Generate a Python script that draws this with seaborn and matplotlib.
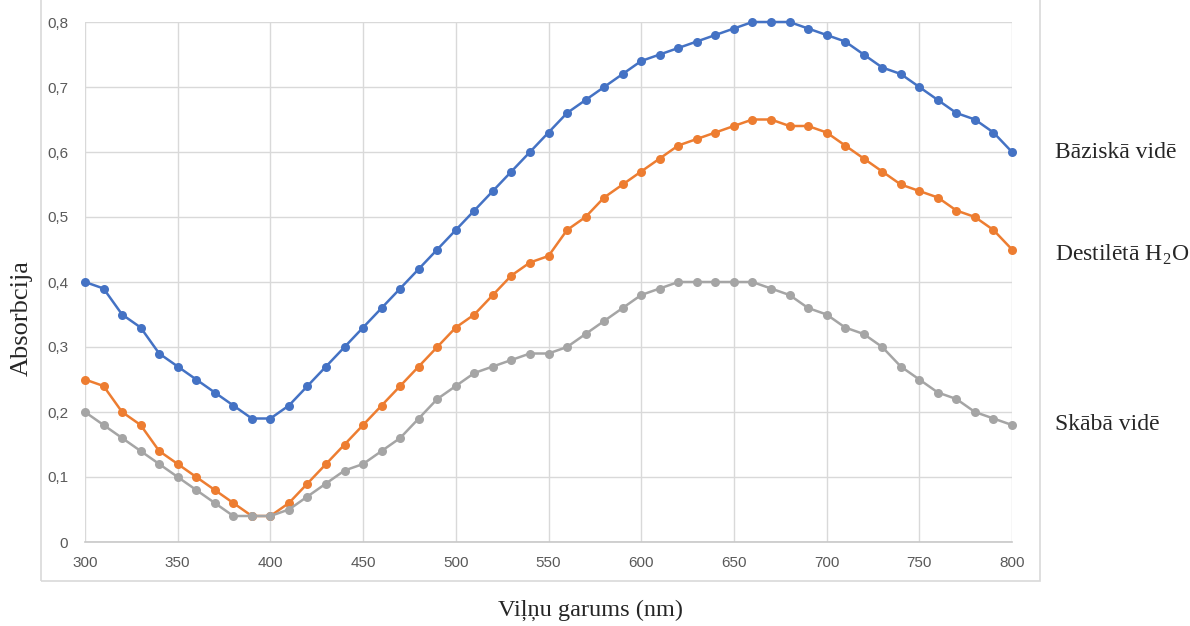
import numpy as np
import pandas as pd
import matplotlib
matplotlib.use('Agg')
import matplotlib.pyplot as plt
from matplotlib.patches import Rectangle
from matplotlib.ticker import FuncFormatter
import seaborn as sns

# Absorption spectra
wavelengths = list(range(300, 801, 10))

bazes = [0.40, 0.39, 0.35, 0.33, 0.29, 0.27, 0.25, 0.23, 0.21, 0.19,
         0.19, 0.21, 0.24, 0.27, 0.30, 0.33, 0.36, 0.39, 0.42, 0.45,
         0.48, 0.51, 0.54, 0.57, 0.60, 0.63, 0.66, 0.68, 0.70, 0.72,
         0.74, 0.75, 0.76, 0.77, 0.78, 0.79, 0.80, 0.80, 0.80, 0.79,
         0.78, 0.77, 0.75, 0.73, 0.72, 0.70, 0.68, 0.66, 0.65, 0.63,
         0.60]
udens = [0.25, 0.24, 0.20, 0.18, 0.14, 0.12, 0.10, 0.08, 0.06, 0.04,
         0.04, 0.06, 0.09, 0.12, 0.15, 0.18, 0.21, 0.24, 0.27, 0.30,
         0.33, 0.35, 0.38, 0.41, 0.43, 0.44, 0.48, 0.50, 0.53, 0.55,
         0.57, 0.59, 0.61, 0.62, 0.63, 0.64, 0.65, 0.65, 0.64, 0.64,
         0.63, 0.61, 0.59, 0.57, 0.55, 0.54, 0.53, 0.51, 0.50, 0.48,
         0.45]
skabes = [0.20, 0.18, 0.16, 0.14, 0.12, 0.10, 0.08, 0.06, 0.04, 0.04,
          0.04, 0.05, 0.07, 0.09, 0.11, 0.12, 0.14, 0.16, 0.19, 0.22,
          0.24, 0.26, 0.27, 0.28, 0.29, 0.29, 0.30, 0.32, 0.34, 0.36,
          0.38, 0.39, 0.40, 0.40, 0.40, 0.40, 0.40, 0.39, 0.38, 0.36,
          0.35, 0.33, 0.32, 0.30, 0.27, 0.25, 0.23, 0.22, 0.20, 0.19,
          0.18]

series_names = ['Bāziskā vidē', 'Destilētā H$_\\mathrm{2}$O', 'Skābā vidē']
colors = ['#4472C4', '#ED7D31', '#A5A5A5']
label_y = [152, 255, 425]  # pixel rows of the right-hand labels

x_ticks = [300, 350, 400, 450, 500, 550, 600, 650, 700, 750, 800]
y_ticks = [0, 0.1, 0.2, 0.3, 0.4, 0.5, 0.6, 0.7, 0.8]

df = pd.concat([
    pd.DataFrame({'wl': wavelengths, 'abs': vals, 'series': name})
    for name, vals in zip(series_names, [bazes, udens, skabes])
])

sns.set_style('white')
plt.rcParams['mathtext.fontset'] = 'custom'
plt.rcParams['mathtext.rm'] = 'Liberation Serif'

W, H = 1190, 626
fig = plt.figure(figsize=(W / 100, H / 100), dpi=100)
ax = fig.add_axes([85 / W, 1 - 542 / H, (1012 - 85) / W, (542 - 22) / H])

# outer chart-area border
fig.patches.append(Rectangle((41 / W, 1 - 581 / H), (1040 - 41) / W, 581 / H + 0.05,
                             transform=fig.transFigure, fill=False,
                             edgecolor='#d9d9d9', lw=1.2, zorder=0))

sns.lineplot(data=df, x='wl', y='abs', hue='series', palette=colors,
             marker='o', markersize=6.5, markeredgewidth=0, linewidth=1.8,
             legend=False, ax=ax, zorder=3)
for line in ax.lines:
    line.set_clip_on(False)

ax.set_xlim(300, 800)
ax.set_ylim(0, 0.8)
ax.set_xticks(x_ticks)
ax.set_yticks(y_ticks)
ax.yaxis.set_major_formatter(FuncFormatter(
    lambda v, p: '0' if v == 0 else f'{v:.1f}'.replace('.', ',')))
ax.grid(True, color='#d9d9d9', lw=1)
ax.set_axisbelow(True)
for s in ['top', 'right', 'left']:
    ax.spines[s].set_visible(False)
ax.spines['bottom'].set_color('#c8c8c8')
ax.spines['bottom'].set_linewidth(1.2)
ax.tick_params(axis='both', length=0, labelsize=11, labelcolor='#595959')
ax.tick_params(axis='x', pad=10)
ax.tick_params(axis='y', pad=12)
for lab in ax.get_xticklabels() + ax.get_yticklabels():
    lab.set_family(['Liberation Sans', 'DejaVu Sans'])

ax.set_xlabel('')
ax.set_ylabel('')
fig.text(591 / W, 1 - 610 / H, 'Viļņu garums (nm)', ha='center', va='center',
         family='Liberation Serif', fontsize=17.5)
fig.text(22 / W, 1 - 318 / H, 'Absorbcija', ha='center', va='center',
         rotation=90, family='Liberation Serif', fontsize=19)

for name, yp in zip(series_names, label_y):
    fig.text(1055 / W, 1 - yp / H, name, ha='left', va='center',
             family='Liberation Serif', fontsize=17)

fig.savefig('out.png', dpi=100)
